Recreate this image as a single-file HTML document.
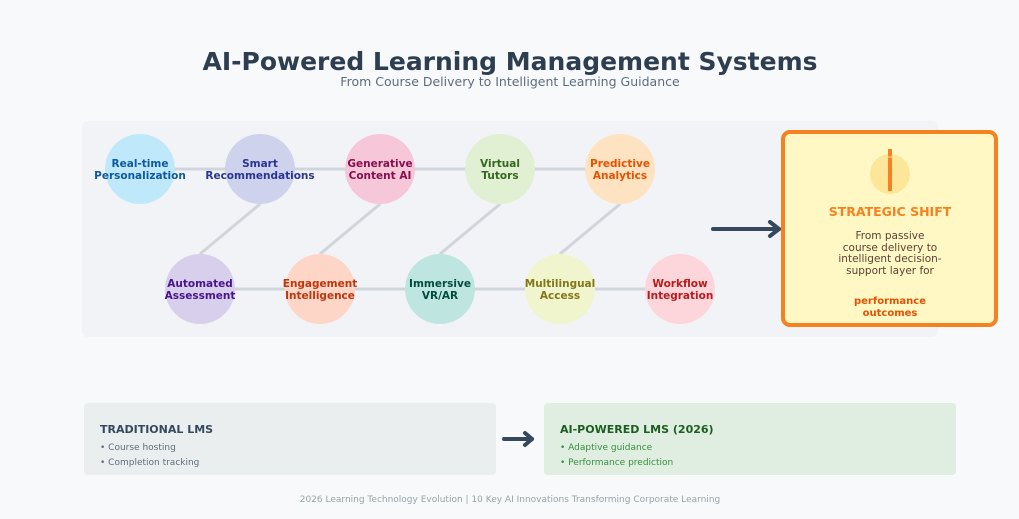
<!DOCTYPE html>
<html><head><meta charset="utf-8"><style>
html,body{margin:0;padding:0;background:#f8f9fb;}
svg{display:block;font-family:"DejaVu Sans","Liberation Sans",sans-serif;}
</style></head><body>
<svg width="1019" height="519" viewBox="0 0 1019 519" xmlns="http://www.w3.org/2000/svg">
<rect width="1019" height="519" fill="#f8f9fb"/>
<text x="510" y="70" text-anchor="middle" font-size="25" font-weight="bold" fill="#2c3e50">AI-Powered Learning Management Systems</text>
<text x="510" y="86" text-anchor="middle" font-size="12.5" fill="#5d6d7e">From Course Delivery to Intelligent Learning Guidance</text>
<rect x="82" y="121" width="856" height="216" rx="6" fill="#f2f3f7"/>
<g stroke="#d0d5dc" stroke-width="3" fill="none">
<line x1="140" y1="169" x2="620" y2="169"/>
<line x1="200" y1="289" x2="680" y2="289"/>
<line x1="260" y1="204" x2="200" y2="254"/>
<line x1="380" y1="204" x2="320" y2="254"/>
<line x1="500" y1="204" x2="440" y2="254"/>
<line x1="620" y1="204" x2="560" y2="254"/>
</g>
<g>
<circle cx="140" cy="169" r="35" fill="#bfe9fa"/>
<circle cx="260" cy="169" r="35" fill="#cfd2ed"/>
<circle cx="380" cy="169" r="35" fill="#f6c6d9"/>
<circle cx="500" cy="169" r="35" fill="#e1efd3"/>
<circle cx="620" cy="169" r="35" fill="#fde3c2"/>
<circle cx="200" cy="289" r="35" fill="#d8cfec"/>
<circle cx="320" cy="289" r="35" fill="#fdd6c7"/>
<circle cx="440" cy="289" r="35" fill="#bfe5e1"/>
<circle cx="560" cy="289" r="35" fill="#f0f5cd"/>
<circle cx="680" cy="289" r="35" fill="#fdd6dc"/>
</g>
<g font-size="10.5" font-weight="bold" text-anchor="middle">
<text x="140" y="167" fill="#0d5aa0">Real-time</text><text x="140" y="179" fill="#0d5aa0">Personalization</text>
<text x="260" y="167" fill="#283593">Smart</text><text x="260" y="179" fill="#283593">Recommendations</text>
<text x="380" y="167" fill="#880e4f">Generative</text><text x="380" y="179" fill="#880e4f">Content AI</text>
<text x="500" y="167" fill="#33691e">Virtual</text><text x="500" y="179" fill="#33691e">Tutors</text>
<text x="620" y="167" fill="#e65100">Predictive</text><text x="620" y="179" fill="#e65100">Analytics</text>
<text x="200" y="287" fill="#4a148c">Automated</text><text x="200" y="299" fill="#4a148c">Assessment</text>
<text x="320" y="287" fill="#bf360c">Engagement</text><text x="320" y="299" fill="#bf360c">Intelligence</text>
<text x="440" y="287" fill="#004d40">Immersive</text><text x="440" y="299" fill="#004d40">VR/AR</text>
<text x="560" y="287" fill="#827717">Multilingual</text><text x="560" y="299" fill="#827717">Access</text>
<text x="680" y="287" fill="#b71c1c">Workflow</text><text x="680" y="299" fill="#b71c1c">Integration</text>
</g>
<g stroke="#34495e" stroke-width="4" fill="none" stroke-linecap="round" stroke-linejoin="round">
<line x1="713" y1="229" x2="779" y2="229"/>
<polyline points="770,222 779,229 770,236"/>
</g>
<rect x="783" y="132" width="213" height="193" rx="7" fill="#fff8c4" stroke="#f5821f" stroke-width="4"/>
<circle cx="890" cy="174" r="20" fill="#fde59a"/>
<rect x="888" y="149" width="4" height="42" fill="#f5821f"/>
<line x1="887" y1="157" x2="893" y2="157" stroke="#fde59a" stroke-width="1"/>
<text x="890" y="216" text-anchor="middle" font-size="12.5" font-weight="bold" fill="#f5821f">STRATEGIC SHIFT</text>
<g font-size="10.5" fill="#5d4037" text-anchor="middle">
<text x="890" y="239">From passive</text>
<text x="890" y="251">course delivery to</text>
<text x="890" y="262">intelligent decision-</text>
<text x="890" y="274">support layer for</text>
</g>
<text x="890" y="304" text-anchor="middle" font-size="10" font-weight="bold" fill="#e65100">performance</text>
<text x="890" y="316" text-anchor="middle" font-size="10" font-weight="bold" fill="#e65100">outcomes</text>
<rect x="84" y="403" width="412" height="72" rx="4" fill="#ebeeef"/>
<text x="100" y="433" font-size="11" font-weight="bold" fill="#34495e">TRADITIONAL LMS</text>
<text x="100" y="450" font-size="9" fill="#5d6d7e">• Course hosting</text>
<text x="100" y="465" font-size="9" fill="#5d6d7e">• Completion tracking</text>
<g stroke="#34495e" stroke-width="4" fill="none" stroke-linecap="round" stroke-linejoin="round">
<line x1="504" y1="439" x2="532" y2="439"/>
<polyline points="525,433 532,439 525,445"/>
</g>
<rect x="544" y="403" width="412" height="72" rx="4" fill="#dfeee1"/>
<text x="560" y="433" font-size="11" font-weight="bold" fill="#1b5e20">AI-POWERED LMS (2026)</text>
<text x="560" y="450" font-size="9" fill="#388e3c">• Adaptive guidance</text>
<text x="560" y="465" font-size="9" fill="#388e3c">• Performance prediction</text>
<text x="510" y="502" text-anchor="middle" font-size="9" fill="#95a5a6">2026 Learning Technology Evolution | 10 Key AI Innovations Transforming Corporate Learning</text>
</svg>
</body></html>
